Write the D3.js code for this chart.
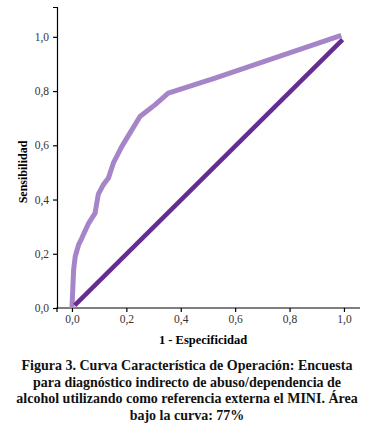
<!DOCTYPE html>
<html><head><meta charset="utf-8">
<script src="https://cdn.jsdelivr.net/npm/d3@7"></script>
<style>body{margin:0;background:#fff}svg{display:block}</style>
</head><body>
<script>
const rocX = [0.0, 0.003, 0.006, 0.012, 0.025, 0.036, 0.06, 0.085, 0.097, 0.115, 0.134, 0.152, 0.183, 0.213, 0.25, 0.305, 0.354, 0.526, 0.99];
const rocY = [0.0, 0.07, 0.14, 0.19, 0.235, 0.257, 0.31, 0.35, 0.42, 0.454, 0.479, 0.534, 0.595, 0.645, 0.706, 0.749, 0.792, 0.848, 1.005];
const diagX = [0.01, 0.995];
const diagY = [0.01, 0.99];
const tickValues = [0, 0.2, 0.4, 0.6, 0.8, 1.0];
const tickLabels = ["0,0", "0,2", "0,4", "0,6", "0,8", "1,0"];
const xTitle = "1 - Especificidad";
const yTitle = "Sensibilidad";
const caption = ["Figura 3. Curva Característica de Operación: Encuesta",
  "para diagnóstico indirecto de abuso/dependencia de",
  "alcohol utilizando como referencia externa el MINI. Área",
  "bajo la curva: 77%"];

const W = 375, H = 438;
const svg = d3.select("body").append("svg").attr("width", W).attr("height", H);
const font = "Liberation Serif, Tinos, Times New Roman, Times, serif";

const x = d3.scaleLinear().domain([-0.055, 1.059]).range([57, 360]);
const y = d3.scaleLinear().domain([0, 1.11]).range([308, 7]);

const fmt = d => tickLabels[tickValues.indexOf(d)];

const xAxis = svg.append("g").attr("transform", "translate(0,308)")
  .call(d3.axisBottom(x).tickValues(tickValues).tickFormat(fmt).tickSizeOuter(4).tickSize(4).tickPadding(3));
const yAxis = svg.append("g").attr("transform", "translate(57,0)")
  .call(d3.axisLeft(y).tickValues(tickValues).tickFormat(fmt).tickSizeOuter(0).tickSize(4).tickPadding(4));
[xAxis, yAxis].forEach(g => {
  g.select(".domain").attr("stroke", "#000").attr("stroke-width", 1.2);
  g.selectAll(".tick line").attr("stroke", "#000").attr("stroke-width", 1.2);
  g.selectAll(".tick text").style("font-family", font).attr("font-size", 11.5).attr("fill", "#333");
});
xAxis.select(".domain").attr("d", `M57,4V0H360`);

svg.append("text").attr("x", 203).attr("y", 344).attr("text-anchor", "middle")
  .style("font-family", font).attr("font-weight", "bold").attr("font-size", 12.5).text(xTitle);
svg.append("text").attr("transform", "translate(27,172) rotate(-90)").attr("text-anchor", "middle")
  .style("font-family", font).attr("font-weight", "bold").attr("font-size", 12).text(yTitle);

const line = d3.line().x(d => x(d[0])).y(d => y(d[1])).curve(d3.curveLinear);
svg.append("path").datum(rocX.map((v, i) => [v, rocY[i]])).attr("d", line)
  .attr("fill", "none").attr("stroke", "#a585c8").attr("stroke-width", 5).attr("stroke-linejoin", "round");
svg.append("path").datum(diagX.map((v, i) => [v, diagY[i]])).attr("d", line)
  .attr("fill", "none").attr("stroke", "#652d91").attr("stroke-width", 4.5);

caption.forEach((t, i) => {
  svg.append("text").attr("x", 187).attr("y", 370 + i * 16.7).attr("text-anchor", "middle")
    .style("font-family", font).attr("font-weight", "bold").attr("font-size", 14).attr("fill", "#111").text(t);
});
</script>
</body></html>
